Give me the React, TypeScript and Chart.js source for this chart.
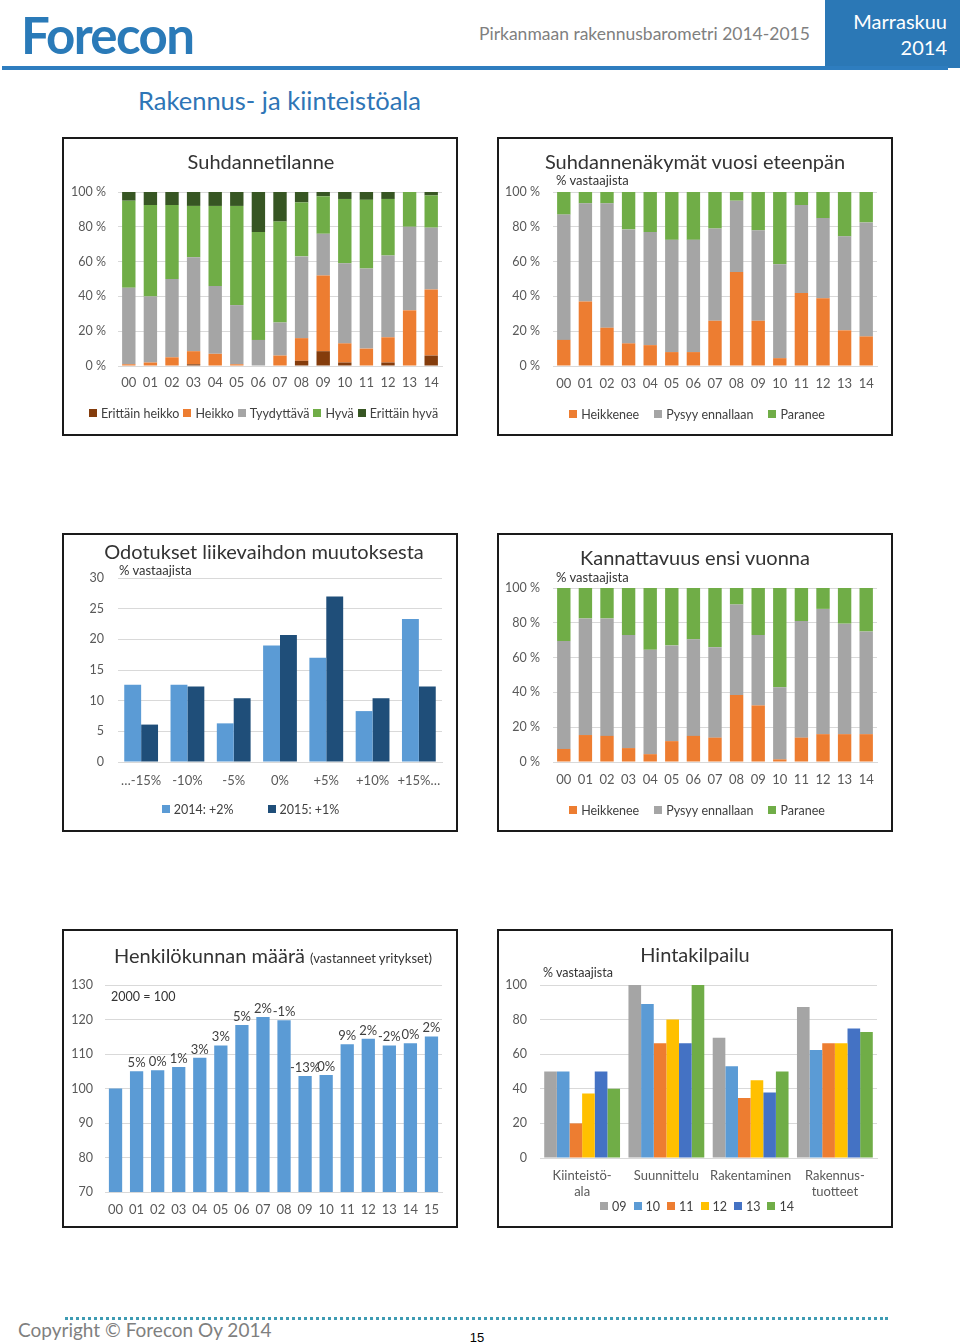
import React, { useEffect, useRef } from "react";
import { Chart, registerables } from "chart.js";

Chart.register(...registerables);

const FONT = "Lato, 'Open Sans', sans-serif";
const C_ORANGE = "#ED7D31";
const C_GRAY = "#A5A5A5";
const C_GREEN = "#70AD47";
const C_DKGREEN = "#375623";
const C_BROWN = "#843C0C";
const C_LBLUE = "#5B9BD5";
const C_NAVY = "#1F4E79";
const C_YELLOW = "#FFC000";
const C_BLUE = "#4472C4";
const GRID = "#D9D9D9";
const TICK = "#595959";
const TEXT = "#333333";

// ---------- data ----------
const years15 = ["00", "01", "02", "03", "04", "05", "06", "07", "08", "09", "10", "11", "12", "13", "14"];
const years16 = ["00", "01", "02", "03", "04", "05", "06", "07", "08", "09", "10", "11", "12", "13", "14", "15"];
const pctTicks = [0, 20, 40, 60, 80, 100];

// Suhdannetilanne
const tilErittainHeikko = [0, 0, 0, 1, 0, 0, 0, 0, 3, 8.5, 2, 0, 2, 0, 6];
const tilHeikko = [1, 2, 5, 7.5, 7, 1, 0, 6, 13, 43.5, 11, 10, 14.5, 32, 38];
const tilTyydyttava = [44, 38, 45, 54, 39, 34, 15, 19, 47, 24, 46, 46, 47, 48, 35.5];
const tilHyva = [50, 52.5, 42.5, 29.5, 46, 57, 62, 58, 31, 21.5, 37, 39.5, 32.5, 20, 18.5];
const tilErittainHyva = [5, 7.5, 7.5, 8, 8, 8, 23, 17, 6, 2.5, 4, 4.5, 4, 0, 2];

// Suhdannenäkymät vuosi eteenpäin
const nakHeikkenee = [15, 37, 22, 13, 12, 8, 8, 26, 54, 26, 4.5, 42, 39, 20.5, 17];
const nakPysyy = [72, 56.5, 71.5, 65.5, 65, 64.5, 64.5, 53, 41, 52, 54, 50.5, 46, 54, 65.5];
const nakParanee = [13, 6.5, 6.5, 21.5, 23, 27.5, 27.5, 21, 5, 22, 41.5, 7.5, 15, 25.5, 17.5];

// Odotukset liikevaihdon muutoksesta
const odoCategories = ["…-15%", "-10%", "-5%", "0%", "+5%", "+10%", "+15%…"];
const odo2014 = [12.6, 12.6, 6.3, 19, 17, 8.3, 23.3];
const odo2015 = [6.1, 12.3, 10.4, 20.7, 27, 10.4, 12.3];

// Kannattavuus ensi vuonna
const kanHeikkenee = [7.5, 15.5, 15, 8, 4.5, 12, 15, 14, 38.5, 32.5, 1.5, 14, 16, 16, 16];
const kanPysyy = [62, 67, 67.5, 65, 60, 55, 55.5, 52, 52, 40.5, 41.5, 67, 72, 63.5, 59];
const kanParanee = [30.5, 17.5, 17.5, 27, 35.5, 33, 29.5, 34, 9.5, 27, 57, 19, 12, 20.5, 25];

// Henkilökunnan määrä
const henIndeksi = [100, 105, 105.3, 106.2, 108.9, 112.5, 118.4, 120.7, 119.8, 103.6, 103.9, 112.8, 114.4, 112.5, 113.1, 115.1];
const henMuutos = ["", "5%", "0%", "1%", "3%", "3%", "5%", "2%", "-1%", "-13%", "0%", "9%", "2%", "-2%", "0%", "2%"];

// Hintakilpailu
const hintaGroups = [["Kiinteistö-", "ala"], "Suunnittelu", "Rakentaminen", ["Rakennus-", "tuotteet"]];
const hinta09 = [50, 100, 69.5, 87.3];
const hinta10 = [50, 89, 53, 62.4];
const hinta11 = [20, 66.4, 34.7, 66.4];
const hinta12 = [37.3, 80, 45, 66.4];
const hinta13 = [50, 66.4, 37.8, 74.9];
const hinta14 = [40, 100, 50, 72.8];

// ---------- helpers ----------
type Lay = {
  top: number;
  bottom: number;
  yWidth: number;
  xHeight: number;
  yPad: number;
  xPad: number;
};

type LegendOpts = { y: number; cx: number; gap: number; size: number } | undefined;

// legend drawn on the canvas from the chart's own datasets (labels + colours)
const bottomLegend = {
  id: "bottomLegend",
  afterDraw(chart: any, _args: any, opts: any) {
    if (!opts || opts.y === undefined) return;
    const ctx = chart.ctx;
    ctx.save();
    ctx.font = `${opts.size}px ${FONT}`;
    const box = 8;
    const boxGap = 4;
    const items = chart.data.datasets.map((d: any) => ({
      text: d.label,
      color: d.backgroundColor,
      w: ctx.measureText(d.label).width,
    }));
    const total =
      items.reduce((s: number, it: any) => s + box + boxGap + it.w, 0) + opts.gap * (items.length - 1);
    let x = opts.cx - total / 2;
    ctx.textAlign = "left";
    ctx.textBaseline = "middle";
    items.forEach((it: any) => {
      ctx.fillStyle = it.color;
      ctx.fillRect(Math.round(x), Math.round(opts.y - box / 2), box, box);
      x += box + boxGap;
      ctx.fillStyle = "#404040";
      ctx.fillText(it.text, x, opts.y + 1);
      x += it.w + opts.gap;
    });
    ctx.restore();
  },
};

function makeOptions(l: Lay, legend: LegendOpts, y: any, x: any = {}) {
  return {
    responsive: false,
    animation: false,
    devicePixelRatio: 1,
    events: [],
    layout: { padding: { top: l.top, bottom: l.bottom, left: 0, right: 14 } },
    plugins: {
      legend: { display: false },
      tooltip: { enabled: false },
      title: { display: false },
      bottomLegend: legend || {},
    },
    scales: {
      x: {
        grid: { display: false, drawTicks: false },
        border: { display: true, color: GRID, width: 1 },
        ticks: { color: TICK, padding: l.xPad, font: { family: FONT, size: 13 }, maxRotation: 0, autoSkip: false },
        afterFit: (s: any) => {
          s.height = l.xHeight;
        },
        ...x,
      },
      y: {
        grid: { color: GRID, drawTicks: false },
        border: { display: false },
        afterFit: (s: any) => {
          s.width = l.yWidth;
        },
        ...y,
        ticks: { color: TICK, padding: l.yPad, font: { family: FONT, size: 12.5 }, ...(y.ticks || {}) },
      },
    },
  };
}

function ds(label: string, data: number[], color: string, extra: any = {}) {
  return { label, data, backgroundColor: color, borderWidth: 0, ...extra };
}

const pctY = {
  stacked: true,
  min: 0,
  max: 100,
  afterBuildTicks: (s: any) => {
    s.ticks = pctTicks.map((v) => ({ value: v }));
  },
  ticks: { callback: (v: any) => `${v} %` },
};

const stackBar = { barPercentage: 0.62, categoryPercentage: 1 };

const barLabelPlugin = {
  id: "henLabels",
  afterDatasetsDraw(chart: any) {
    const meta = chart.getDatasetMeta(0);
    const ctx = chart.ctx;
    ctx.save();
    ctx.font = `13px ${FONT}`;
    ctx.fillStyle = "#404040";
    ctx.textAlign = "center";
    ctx.textBaseline = "alphabetic";
    meta.data.forEach((el: any, i: number) => {
      const t = henMuutos[i];
      if (t) ctx.fillText(t, el.x, el.y - 4);
    });
    ctx.restore();
  },
};

// ---------- configs ----------
const cfgTilanne = () => ({
  type: "bar",
  data: {
    labels: years15,
    datasets: [
      ds("Erittäin heikko", tilErittainHeikko, C_BROWN, stackBar),
      ds("Heikko", tilHeikko, C_ORANGE, stackBar),
      ds("Tyydyttävä", tilTyydyttava, C_GRAY, stackBar),
      ds("Hyvä", tilHyva, C_GREEN, stackBar),
      ds("Erittäin hyvä", tilErittainHyva, C_DKGREEN, stackBar),
    ],
  },
  options: makeOptions(
    { top: 53, bottom: 0, yWidth: 54, xHeight: 68, yPad: 12, xPad: 9 },
    { y: 274, cx: 199.5, gap: 4, size: 12.5 },
    pctY,
    { stacked: true }
  ),
  plugins: [bottomLegend],
});

const cfgNakymat = () => ({
  type: "bar",
  data: {
    labels: years15,
    datasets: [
      ds("Heikkenee", nakHeikkenee, C_ORANGE, stackBar),
      ds("Pysyy ennallaan", nakPysyy, C_GRAY, stackBar),
      ds("Paranee", nakParanee, C_GREEN, stackBar),
    ],
  },
  options: makeOptions(
    { top: 53, bottom: 0, yWidth: 54, xHeight: 68, yPad: 13, xPad: 10 },
    { y: 275, cx: 198, gap: 15, size: 12.5 },
    pctY,
    { stacked: true }
  ),
  plugins: [bottomLegend],
});

const cfgOdotukset = () => ({
  type: "bar",
  data: {
    labels: odoCategories,
    datasets: [
      ds("2014: +2%", odo2014, C_LBLUE, { barPercentage: 1, categoryPercentage: 0.73 }),
      ds("2015: +1%", odo2015, C_NAVY, { barPercentage: 1, categoryPercentage: 0.73 }),
    ],
  },
  options: makeOptions(
    { top: 43, bottom: 0, yWidth: 54, xHeight: 68, yPad: 14, xPad: 11 },
    { y: 274, cx: 186.5, gap: 34, size: 12.5 },
    { min: 0, max: 30, ticks: { stepSize: 5 } }
  ),
  plugins: [bottomLegend],
});

const cfgKannattavuus = () => ({
  type: "bar",
  data: {
    labels: years15,
    datasets: [
      ds("Heikkenee", kanHeikkenee, C_ORANGE, stackBar),
      ds("Pysyy ennallaan", kanPysyy, C_GRAY, stackBar),
      ds("Paranee", kanParanee, C_GREEN, stackBar),
    ],
  },
  options: makeOptions(
    { top: 53, bottom: 0, yWidth: 54, xHeight: 68, yPad: 13, xPad: 10 },
    { y: 275, cx: 198, gap: 15, size: 12.5 },
    pctY,
    { stacked: true }
  ),
  plugins: [bottomLegend],
});

const cfgHenkilokunta = () => ({
  type: "bar",
  data: {
    labels: years16,
    datasets: [ds("Henkilökunta", henIndeksi, C_LBLUE, { barPercentage: 0.63, categoryPercentage: 1 })],
  },
  options: makeOptions(
    { top: 54, bottom: 0, yWidth: 41, xHeight: 34, yPad: 12, xPad: 10 },
    undefined,
    { min: 70, max: 130, ticks: { stepSize: 10 } }
  ),
  plugins: [barLabelPlugin],
});

const hb = { barPercentage: 1, categoryPercentage: 0.9 };
const cfgHinta = () => ({
  type: "bar",
  data: {
    labels: hintaGroups,
    datasets: [
      ds("09", hinta09, C_GRAY, hb),
      ds("10", hinta10, C_LBLUE, hb),
      ds("11", hinta11, C_ORANGE, hb),
      ds("12", hinta12, C_YELLOW, hb),
      ds("13", hinta13, C_BLUE, hb),
      ds("14", hinta14, C_GREEN, hb),
    ],
  },
  options: makeOptions(
    { top: 54, bottom: 0, yWidth: 41, xHeight: 68, yPad: 13, xPad: 10 },
    { y: 275, cx: 198, gap: 7, size: 12.5 },
    { min: 0, max: 100, ticks: { stepSize: 20 } }
  ),
  plugins: [bottomLegend],
});

// ---------- components ----------
function Panel({ left, top, make }: { left: number; top: number; make: () => any }) {
  const ref = useRef<HTMLCanvasElement>(null);
  useEffect(() => {
    const chart = new Chart(ref.current as HTMLCanvasElement, make());
    return () => chart.destroy();
  }, []);
  return (
    <div
      style={{
        position: "absolute",
        left,
        top,
        width: 396,
        height: 299,
        boxSizing: "border-box",
        border: "2px solid #1a1a1a",
        background: "#fff",
      }}
    >
      <canvas ref={ref} width={392} height={295} style={{ display: "block", width: 392, height: 295 }} />
    </div>
  );
}

function Txt({
  x,
  y,
  size,
  children,
  align = "left",
  color = TEXT,
  weight = 400,
  family = FONT,
  extra = {},
}: any) {
  const tx = align === "center" ? "-50%" : align === "right" ? "-100%" : "0";
  return (
    <div
      style={{
        position: "absolute",
        left: x,
        top: y,
        transform: `translate(${tx}, -50%)`,
        whiteSpace: "nowrap",
        fontSize: size,
        lineHeight: 1,
        fontFamily: family,
        fontWeight: weight,
        color,
        ...extra,
      }}
    >
      {children}
    </div>
  );
}

export default function App() {
  return (
    <div style={{ position: "absolute", left: 0, top: 0, width: 960, height: 1343, background: "#fff", overflow: "hidden" }}>
      {/* header */}
      <Txt x={21} y={34} size={51} weight={700} color="#2A7AB8" extra={{ letterSpacing: "-1.6px" }}>
        Forecon
      </Txt>
      <Txt x={479} y={34} size={17.5} color="#7F7F7F">
        Pirkanmaan rakennusbarometri 2014-2015
      </Txt>
      <div style={{ position: "absolute", left: 825, top: 0, width: 135, height: 68, background: "#2B78B6" }} />
      <Txt x={947} y={21} size={20} align="right" color="#ffffff">
        Marraskuu
      </Txt>
      <Txt x={947} y={47} size={20} align="right" color="#ffffff">
        2014
      </Txt>
      <div style={{ position: "absolute", left: 2, top: 66, width: 946, height: 4, background: "#2E7DBF" }} />
      <Txt x={138} y={101} size={25.5} color="#2E75B6">
        Rakennus- ja kiinteistöala
      </Txt>

      {/* panels */}
      <Panel left={62} top={137} make={cfgTilanne} />
      <Panel left={497} top={137} make={cfgNakymat} />
      <Panel left={62} top={533} make={cfgOdotukset} />
      <Panel left={497} top={533} make={cfgKannattavuus} />
      <Panel left={62} top={929} make={cfgHenkilokunta} />
      <Panel left={497} top={929} make={cfgHinta} />

      {/* titles */}
      <Txt x={261} y={161} size={20} align="center">Suhdannetilanne</Txt>

      <Txt x={695} y={161} size={20} align="center">Suhdannenäkymät vuosi eteenpän</Txt>
      <Txt x={556} y={180} size={13}>% vastaajista</Txt>

      <Txt x={264} y={551} size={20} align="center">Odotukset liikevaihdon muutoksesta</Txt>
      <Txt x={119} y={570} size={13}>% vastaajista</Txt>

      <Txt x={695} y={557} size={20} align="center">Kannattavuus ensi vuonna</Txt>
      <Txt x={556} y={577} size={13}>% vastaajista</Txt>

      <Txt x={114} y={955} size={20}>
        Henkilökunnan määrä <span style={{ fontSize: 13 }}>(vastanneet yritykset)</span>
      </Txt>
      <Txt x={111} y={997} size={12.5}>2000 = 100</Txt>

      <Txt x={695} y={954} size={20} align="center">Hintakilpailu</Txt>
      <Txt x={543} y={973} size={12.5}>% vastaajista</Txt>

      {/* footer */}
      <div style={{ position: "absolute", left: 65, top: 1317, width: 823, height: 0, borderTop: "3px dotted #3E9BB3" }} />
      <Txt x={18} y={1329} size={19} color="#7F7F7F">
        Copyright © Forecon Oy 2014
      </Txt>
      <Txt x={477} y={1337} size={13} align="center" color="#000" family="'Liberation Sans', Arial, sans-serif">
        15
      </Txt>
    </div>
  );
}
